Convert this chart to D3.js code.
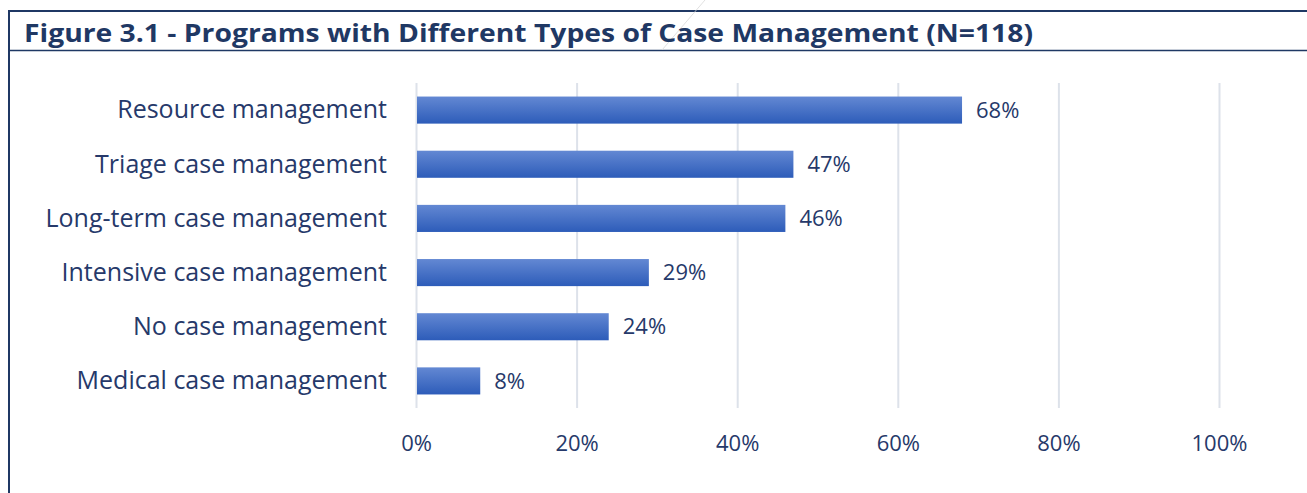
<!DOCTYPE html>
<html><head><meta charset="utf-8">
<script src="https://cdn.jsdelivr.net/npm/d3@7"></script>
<style>
html,body{margin:0;padding:0;background:#fff;}
svg{display:block;}
</style></head>
<body>
<svg id="chart" width="1307" height="493"></svg>
<script>
const categories = ["Resource management","Triage case management","Long-term case management","Intensive case management","No case management","Medical case management"];
const values = [68,47,46,29,24,8];
const ticks = [0,20,40,60,80,100];
const title = "Figure 3.1 - Programs with Different Types of Case Management (N=118)";

const svg = d3.select("#chart");
const navy = "#1f3864";
const textCol = "#26396a";
const font = "'Open Sans', 'Noto Sans', sans-serif";

// frame
svg.append("line").attr("x1",8).attr("x2",1307).attr("y1",11).attr("y2",11).attr("stroke",navy).attr("stroke-width",2);
svg.append("line").attr("x1",9).attr("x2",9).attr("y1",10).attr("y2",493).attr("stroke",navy).attr("stroke-width",2);
svg.append("line").attr("x1",9).attr("x2",1307).attr("y1",50.5).attr("y2",50.5).attr("stroke",navy).attr("stroke-width",1.5);
svg.append("line").attr("x1",705).attr("x2",662).attr("y1",0).attr("y2",50).attr("stroke","#d8d8d8").attr("stroke-width",0.8);

svg.append("text").attr("x",24).attr("y",42).attr("fill",navy)
  .style("font-family",font).style("font-weight","700").style("font-size","25px")
  .text(title).attr("textLength",1009).attr("lengthAdjust","spacingAndGlyphs");

const x = d3.scaleLinear().domain([0,100]).range([416,1219]);
const y = d3.scaleBand().domain(categories).range([83,408]).paddingInner(0.5).paddingOuter(0.25);

const defs = svg.append("defs");
const grad = defs.append("linearGradient").attr("id","barg").attr("x1",0).attr("x2",0).attr("y1",0).attr("y2",1);
grad.append("stop").attr("offset","0%").attr("stop-color","#6388d3");
grad.append("stop").attr("offset","100%").attr("stop-color","#2d5cb9");

// gridlines
svg.append("g").selectAll("line").data(ticks).join("line")
  .attr("x1",d=>x(d)+0.5).attr("x2",d=>x(d)+0.5).attr("y1",83).attr("y2",408)
  .attr("stroke","#dde2ea").attr("stroke-width",2);

// x axis labels
const xAxis = d3.axisBottom(x).tickValues(ticks).tickFormat(d=>d+"%").tickSize(0).tickPadding(0);
const gx = svg.append("g").attr("transform","translate(0,443)").call(xAxis);
gx.select(".domain").remove();
gx.selectAll("text").attr("fill",textCol).style("font-family",font).style("font-size","22px").attr("dy","0.35em");

// y axis labels
const yAxis = d3.axisLeft(y).tickSize(0).tickPadding(0);
const gy = svg.append("g").attr("transform","translate(387,0)").call(yAxis);
gy.select(".domain").remove();
gy.selectAll("text").attr("fill",textCol).style("font-family",font).style("font-size","25px").attr("dy","0.33em");

// bars
const data = categories.map((c,i)=>({c,v:values[i]}));
svg.append("g").selectAll("rect").data(data).join("rect")
  .attr("x",x(0)+1).attr("y",d=>y(d.c)).attr("height",y.bandwidth())
  .attr("width",d=>x(d.v)-x(0)-1).attr("fill","url(#barg)");

svg.append("g").selectAll("text").data(data).join("text")
  .attr("x",d=>x(d.v)+14).attr("y",d=>y(d.c)+y.bandwidth()/2).attr("dy","0.35em")
  .attr("fill",textCol).style("font-family",font).style("font-size","22px")
  .text(d=>d.v+"%");
</script>
</body></html>
